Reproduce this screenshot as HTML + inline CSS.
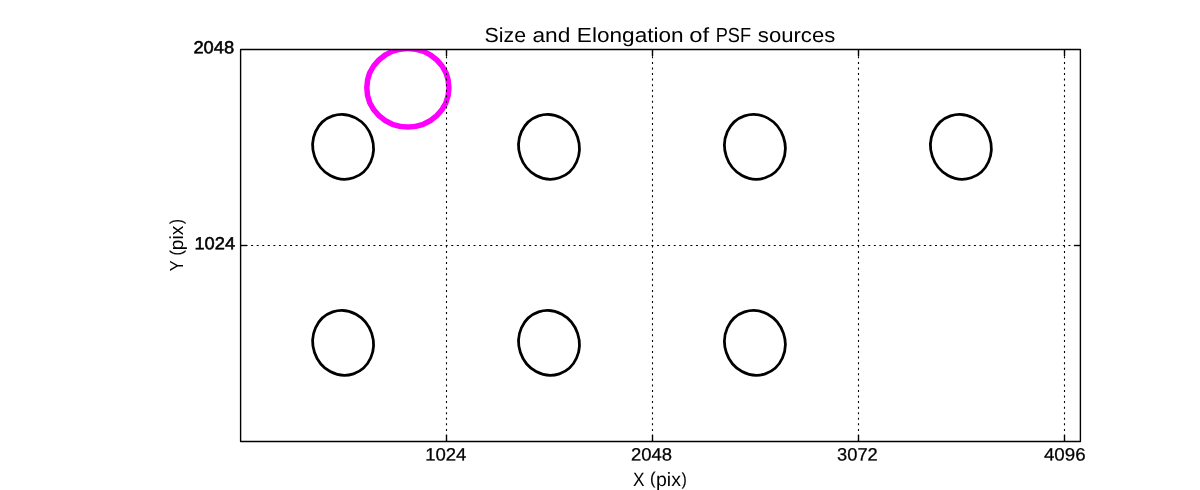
<!DOCTYPE html>
<html>
<head>
<meta charset="utf-8">
<style>
html,body{margin:0;padding:0;background:#fff;}
body{width:1200px;height:490px;overflow:hidden;}
svg{display:block;will-change:transform;}
text{font-family:"Liberation Sans", sans-serif;fill:#000;text-rendering:geometricPrecision;}
</style>
</head>
<body>
<svg width="1200" height="490" viewBox="0 0 1200 490">
<defs>
<clipPath id="ax"><rect x="240" y="49.5" width="840.5" height="392.0"/></clipPath>
</defs>
<rect x="0" y="0" width="1200" height="490" fill="#fff"/>
<!-- PSF ellipses -->
<g clip-path="url(#ax)" fill="none">
<g stroke="#000" stroke-width="2.78">
<ellipse rx="30.15" ry="32.68" transform="translate(343.1 146.8) rotate(-18.5)"/>
<ellipse rx="30.15" ry="32.68" transform="translate(549.0 146.8) rotate(-18.5)"/>
<ellipse rx="30.15" ry="32.68" transform="translate(754.9 146.8) rotate(-18.5)"/>
<ellipse rx="30.15" ry="32.68" transform="translate(960.9 146.8) rotate(-18.5)"/>
<ellipse rx="30.15" ry="32.68" transform="translate(343.1 342.9) rotate(-18.5)"/>
<ellipse rx="30.15" ry="32.68" transform="translate(549.0 342.9) rotate(-18.5)"/>
<ellipse rx="30.15" ry="32.68" transform="translate(754.9 342.9) rotate(-18.5)"/>
</g>
<ellipse cx="407.85" cy="87.85" rx="41.05" ry="39.25" stroke="#ff00ff" stroke-width="5.5"/>
</g>
<!-- dotted grid -->
<g stroke="#000" stroke-width="1.1" fill="none" stroke-dasharray="2 3.56">
<line x1="446.5" y1="441" x2="446.5" y2="49.5" stroke-dashoffset="1.0"/>
<line x1="652.5" y1="441" x2="652.5" y2="49.5" stroke-dashoffset="1.0"/>
<line x1="858.5" y1="441" x2="858.5" y2="49.5" stroke-dashoffset="1.0"/>
<line x1="1064.5" y1="441" x2="1064.5" y2="49.5" stroke-dashoffset="1.0"/>
<line x1="240" y1="245.5" x2="1080.5" y2="245.5" stroke-dashoffset="0"/>
</g>
<!-- ticks -->
<g stroke="#000" stroke-width="1.39">
<line x1="446.5" y1="49.5" x2="446.5" y2="56.0"/><line x1="446.5" y1="441.5" x2="446.5" y2="435.0"/>
<line x1="652.5" y1="49.5" x2="652.5" y2="56.0"/><line x1="652.5" y1="441.5" x2="652.5" y2="435.0"/>
<line x1="858.5" y1="49.5" x2="858.5" y2="56.0"/><line x1="858.5" y1="441.5" x2="858.5" y2="435.0"/>
<line x1="1064.5" y1="49.5" x2="1064.5" y2="56.0"/><line x1="1064.5" y1="441.5" x2="1064.5" y2="435.0"/>
<line x1="240.6" y1="245.5" x2="247.1" y2="245.5"/>
<line x1="1080.4" y1="245.5" x2="1073.9" y2="245.5"/>
</g>
<!-- axes frame -->
<rect x="240.6" y="49.5" width="839.80" height="392.00" fill="none" stroke="#000" stroke-width="1.39" stroke-linejoin="round"/>
<!-- text -->
<text transform="matrix(1.06546 0 0 1.02000 484.599 41.550)" font-size="20">Size</text>
<text transform="matrix(1.13605 0 0 1.02000 532.446 41.550)" font-size="20">and</text>
<text transform="matrix(1.13010 0 0 1.02000 576.857 41.550)" font-size="20">Elongation</text>
<text transform="matrix(1.18903 0 0 1.02000 689.359 41.550)" font-size="20">of</text>
<text transform="matrix(0.90818 0 0 1.02000 715.727 41.550)" font-size="20">PSF</text>
<text transform="matrix(1.10518 0 0 1.02000 757.850 41.550)" font-size="20">sources</text>
<text transform="matrix(0.92589 0.00185 -0.00179 0.89300 425.211 460.420)" font-size="20" stroke="#000" stroke-width="0.3">1024</text>
<text transform="matrix(0.92230 0.00184 -0.00179 0.89300 631.026 460.420)" font-size="20" stroke="#000" stroke-width="0.3">2048</text>
<text transform="matrix(0.91215 0.00182 -0.00179 0.89300 837.116 460.420)" font-size="20" stroke="#000" stroke-width="0.3">3072</text>
<text transform="matrix(0.93541 0.00187 -0.00179 0.89300 1043.938 460.420)" font-size="20" stroke="#000" stroke-width="0.3">4096</text>
<text transform="matrix(0.91620 0.00183 -0.00174 0.87000 193.383 53.300)" font-size="20" stroke="#000" stroke-width="0.6">2048</text>
<text transform="matrix(0.91291 0.00183 -0.00174 0.87000 194.447 249.300)" font-size="20" stroke="#000" stroke-width="0.6">1024</text>
<text transform="matrix(0.86292 0 0 0.96694 632.929 486.041)" font-size="20">X</text>
<text transform="matrix(0.81883 0 0 0.85240 650.055 484.455)" font-size="20" stroke="#000" stroke-width="0.2">(</text>
<text transform="matrix(0.97544 0 0 0.96694 655.989 486.041)" font-size="20">pix</text>
<text transform="matrix(0.74339 0 0 0.85734 681.740 484.515)" font-size="20" stroke="#000" stroke-width="0.2">)</text>
<text transform="matrix(0 -0.81819 0.94646 0 182.993 271.277)" font-size="20">Y</text>
<text transform="matrix(0 -0.78853 0.85024 0 181.702 255.535)" font-size="20" stroke="#000" stroke-width="0.2">(</text>
<text transform="matrix(0 -0.95719 0.94646 0 182.993 250.267)" font-size="20">pix</text>
<text transform="matrix(0 -0.73501 0.85117 0 181.908 224.088)" font-size="20" stroke="#000" stroke-width="0.2">)</text>
</svg>
</body>
</html>
